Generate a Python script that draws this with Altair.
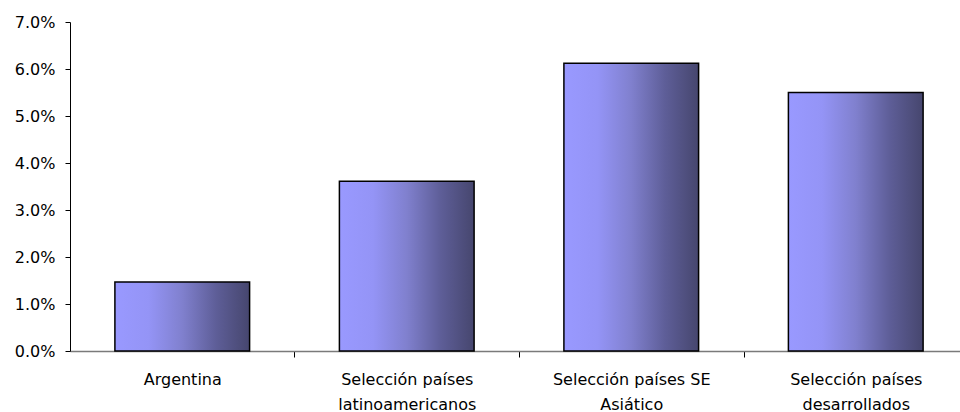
import altair as alt
import pandas as pd

# Average growth rates by group of countries
categorias = [
    "Argentina",
    "Selección países latinoamericanos",
    "Selección países SE Asiático",
    "Selección países desarrollados",
]
etiquetas = [
    ["Argentina"],
    ["Selección países", "latinoamericanos"],
    ["Selección países SE", "Asiático"],
    ["Selección países", "desarrollados"],
]
valores = [0.0147, 0.0361, 0.0612, 0.0550]

df = pd.DataFrame({"grupo": categorias, "valor": valores})

# label expression mapping each category to its wrapped lines
label_expr = " : ".join(
    f"datum.value === {c!r} ? {l!r}" for c, l in zip(categorias, etiquetas)
) + " : datum.value"

gradiente = alt.Gradient(
    gradient="linear",
    x1=0, y1=0, x2=1, y2=0,
    stops=[
        alt.GradientStop(color="#9999FF", offset=0.0),
        alt.GradientStop(color="#9494F6", offset=0.25),
        alt.GradientStop(color="#8080CE", offset=0.5),
        alt.GradientStop(color="#5E5E98", offset=0.75),
        alt.GradientStop(color="#46466E", offset=1.0),
    ],
)

FONT = "DejaVu Sans"
RANGE = 898
STEP = RANGE / 4  # band step, ticks sit halfway between categories

chart = (
    alt.Chart(df)
    .mark_bar(fill=gradiente, stroke="#000000", strokeWidth=1.5)
    .encode(
        x=alt.X(
            "grupo:N",
            sort=categorias,
            title=None,
            scale=alt.Scale(range=[0, RANGE], paddingInner=0.4, paddingOuter=0.2),
            axis=alt.Axis(
                labelAngle=0,
                labelExpr=label_expr,
                labelFont=FONT,
                labelFontSize=16,
                labelColor="#000000",
                labelPadding=14,
                labelLineHeight=25,
                labelBaseline="top",
                tickOffset=STEP / 2,
                labelOffset=-STEP / 2,
                tickSize=6,
                tickColor="#000000",
                domainColor="#7a7a7a",
                domainWidth=1.5,
                grid=False,
            ),
        ),
        y=alt.Y(
            "valor:Q",
            title=None,
            scale=alt.Scale(domain=[0, 0.07], nice=False),
            axis=alt.Axis(
                values=[0, 0.01, 0.02, 0.03, 0.04, 0.05, 0.06, 0.07],
                format=".1%",
                labelFont=FONT,
                labelFontSize=16,
                labelColor="#000000",
                labelPadding=10,
                tickSize=5,
                tickColor="#000000",
                domainColor="#000000",
                grid=False,
            ),
        ),
    )
    .properties(
        width=890,
        height=329,
        background="#ffffff",
        autosize=alt.AutoSizeParams(type="none"),
        padding={"left": 70, "top": 22, "right": 0, "bottom": 61},
    )
    .configure_view(strokeWidth=0, stroke="transparent")
)

chart.save("out.html", embed_options={"renderer": "svg", "actions": False})
